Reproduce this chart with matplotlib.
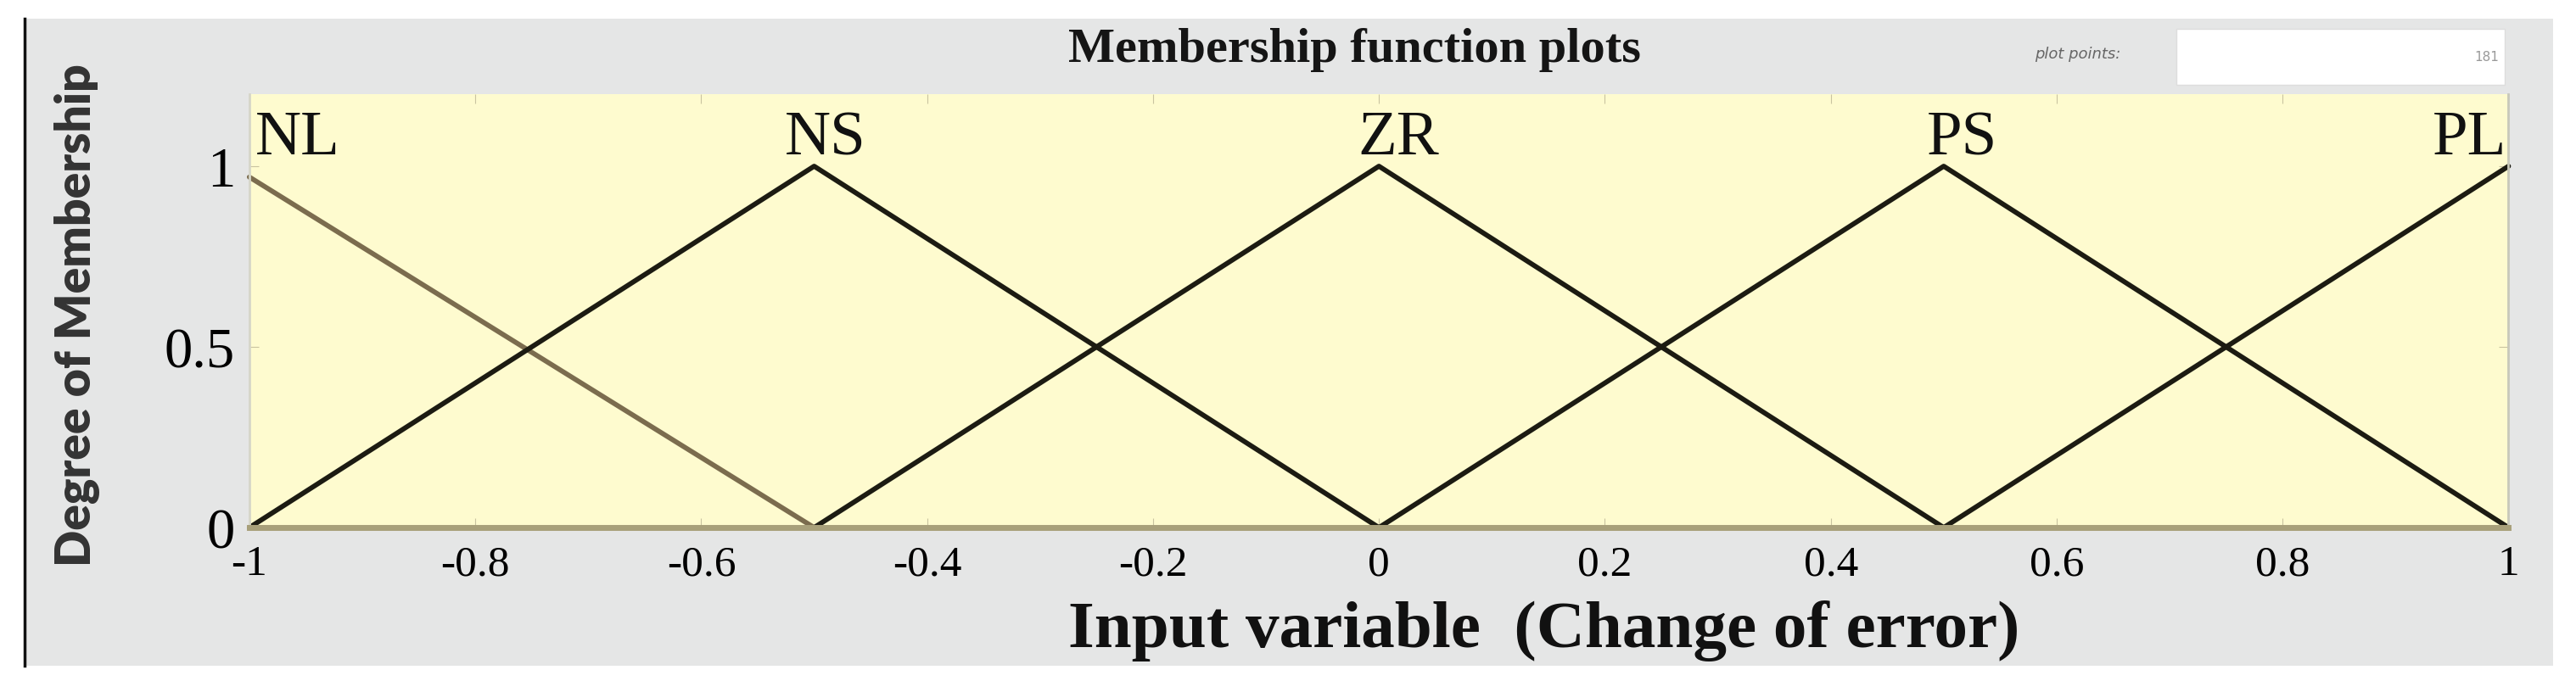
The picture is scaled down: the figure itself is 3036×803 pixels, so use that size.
import numpy as np
import matplotlib
matplotlib.use("Agg")
import matplotlib.pyplot as plt
from matplotlib.patches import Rectangle
from matplotlib.lines import Line2D

# membership functions (triangles) over the input range
mf_names = ["NL", "NS", "ZR", "PS", "PL"]
mf_x = [
    [-1.0, -0.5],
    [-1.0, -0.5, 0.0],
    [-0.5, 0.0, 0.5],
    [0.0, 0.5, 1.0],
    [0.5, 1.0],
]
mf_y = [
    [0.97, 0.0],
    [0.0, 1.0, 0.0],
    [0.0, 1.0, 0.0],
    [0.0, 1.0, 0.0],
    [0.0, 1.0],
]
mf_colors = ["#7b6c4e", "#1c1b12", "#1c1b12", "#1c1b12", "#1c1b12"]
label_x = [-0.995, -0.49, 0.017, 0.516, 0.998]
label_ha = ["left", "center", "center", "center", "right"]

xticks = [-1, -0.8, -0.6, -0.4, -0.2, 0, 0.2, 0.4, 0.6, 0.8, 1]
xtick_labels = ["-1", "-0.8", "-0.6", "-0.4", "-0.2", "0", "0.2", "0.4", "0.6", "0.8", "1"]
yticks = [0, 0.5, 1]
ytick_labels = ["0", "0.5", "1"]

serif = "Liberation Serif"

fig = plt.figure(figsize=(30.36, 8.04), dpi=100)
fig.patch.set_facecolor("white")

# gray editor panel + dark left border
fig.patches.append(Rectangle((0.0102, 0.0224), 0.9808, 0.9486, transform=fig.transFigure,
                             facecolor="#e5e6e6", edgecolor="none", zorder=-2))
fig.lines.append(Line2D([0.0096, 0.0096], [0.0224, 0.971], transform=fig.transFigure,
                        color="#111111", lw=2.5, zorder=-1))
# little input box top right
fig.patches.append(Rectangle((2565 / 3036, 1 - 101 / 804), 387 / 3036, 66 / 804,
                             transform=fig.transFigure, facecolor="white",
                             edgecolor="#dddddd", zorder=-1))
fig.text(2449 / 3036, 1 - 64 / 804, "plot points:", fontsize=13, color="#666666",
         style="italic", ha="center", va="center")
fig.text(2945 / 3036, 1 - 68 / 804, "181", fontsize=11, color="#999999",
         ha="right", va="center")

ax = fig.add_axes([0.0968, 0.225, 0.877, 0.636])
ax.set_facecolor("#fefbcf")

for name, xs, ys, c, lx, ha in zip(mf_names, mf_x, mf_y, mf_colors, label_x, label_ha):
    ax.plot(xs, ys, color=c, lw=4.2, solid_capstyle="round", clip_on=False)
    ax.text(lx, 1.035, name, fontsize=54, family=serif, ha=ha, va="baseline", color="#111111")

ax.set_xlim(-1, 1)
ax.set_ylim(0, 1.2)
ax.set_xticks(xticks)
ax.set_xticklabels(xtick_labels, fontsize=37, family=serif)
ax.set_yticks(yticks)
ax.set_yticklabels(ytick_labels, fontsize=48, family=serif)
ax.tick_params(axis="x", direction="in", length=8, color="#c9c4a0", top=True, pad=14)
ax.tick_params(axis="y", direction="in", length=8, color="#c9c4a0", right=True, pad=12)

ax.spines["top"].set_visible(False)
ax.spines["bottom"].set_color("#a8a07a")
ax.spines["bottom"].set_linewidth(5)
ax.spines["left"].set_color("#d6d6c8")
ax.spines["left"].set_linewidth(2)
ax.spines["right"].set_color("#c8c8ba")
ax.spines["right"].set_linewidth(2)

ax.set_xlabel("Input variable  (Change of error)", fontsize=57, family=serif,
              fontweight="bold", color="#111111")
ax.xaxis.set_label_coords(0.573, -0.236)
ax.xaxis.label.set_va("center")

ax.set_ylabel("Degree of Membership", fontsize=41, family="Lato",
              fontweight="heavy", color="#333333")
ax.yaxis.set_label_coords(-0.0762, 0.491)
ax.yaxis.label.set_va("center")

fig.text(0.526, 0.926, "Membership function plots", fontsize=42, family=serif,
         fontweight="bold", color="#151515", ha="center", va="center")

fig.savefig("out.png", dpi=100)
